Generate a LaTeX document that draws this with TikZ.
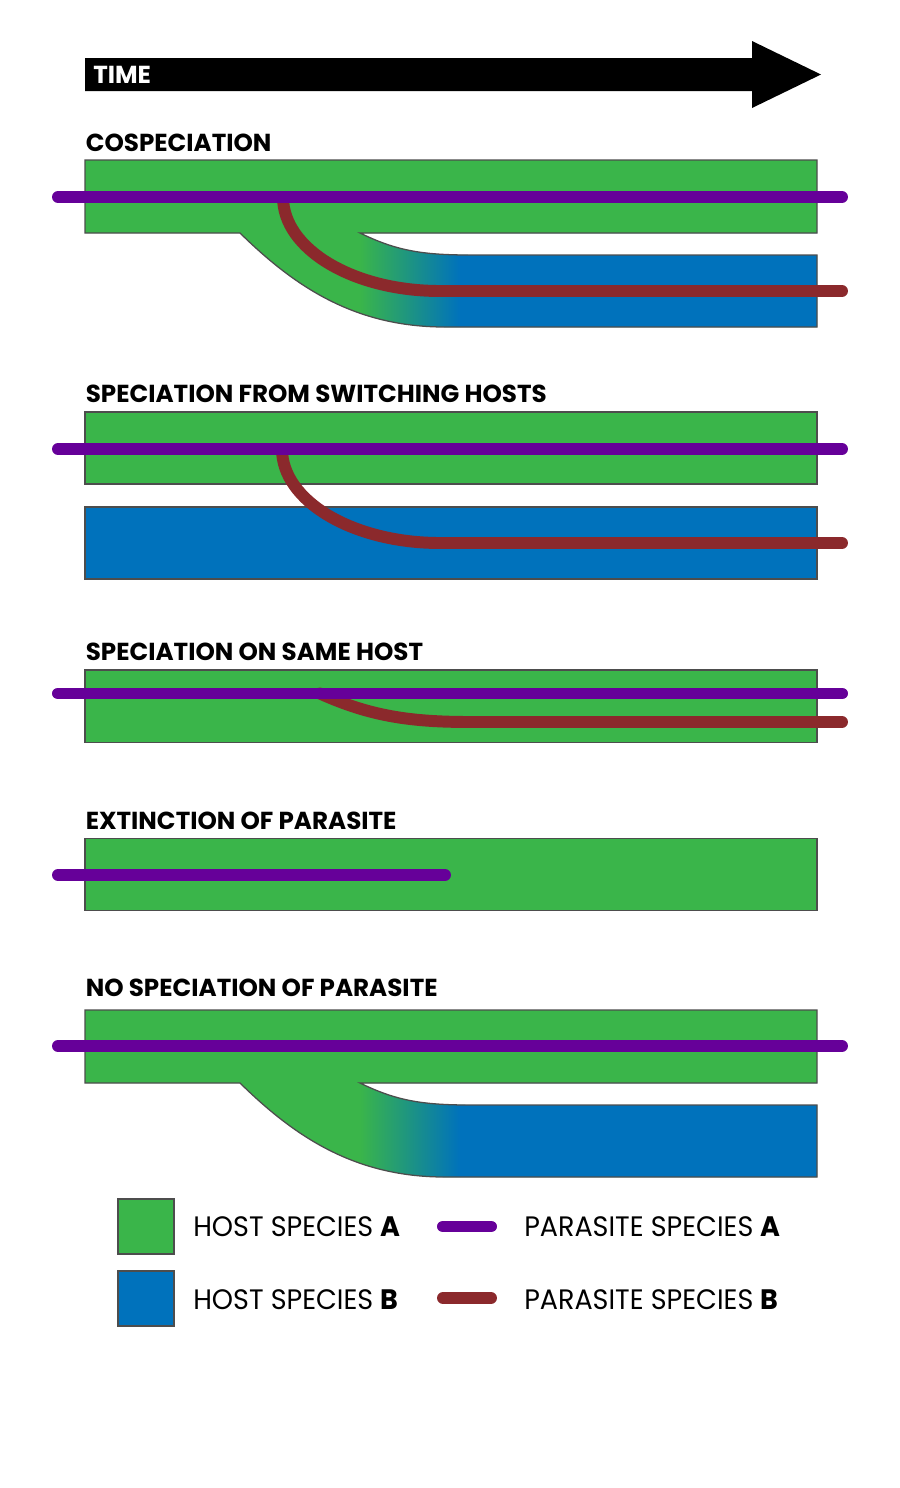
\documentclass[tikz,border=0pt]{standalone}
\usepackage{fontspec}
\setmainfont{Poppins}
\newfontfamily\legendfont[FakeStretch=0.96]{Poppins}

\definecolor{hostA}{RGB}{58,181,74}
\definecolor{hostB}{RGB}{0,114,188}
\definecolor{paraA}{RGB}{102,0,153}
\definecolor{paraB}{RGB}{139,41,44}
\definecolor{rim}{RGB}{77,77,77}

% outline of a host that splits into two
\newcommand{\hostsplit}{(85,160) -- (817,160) -- (817,233) -- (360,233)
  .. controls (395,250) and (420,255) .. (470,255) -- (817,255) -- (817,327)
  -- (445,327) .. controls (355,327) and (295,287) .. (240,233) -- (85,233) -- cycle}

\begin{document}
\begin{tikzpicture}[x=0.025cm, y=-0.025cm,
    host/.style={draw=rim, line width=0.9pt},
    para/.style={line width=8.5pt, line cap=round},
    heading/.style={anchor=base west, inner sep=0pt, font=\bfseries\fontsize{17.5}{20}\selectfont},
    legend/.style={anchor=base west, inner sep=0pt, font=\legendfont\fontsize{20}{24}\selectfont}]
    \useasboundingbox[fill=white] (0,0) rectangle (900,1488);

    % Time arrow
    \fill[black] (85,58) -- (752,58) -- (752,41) -- (821,74.5) -- (752,108) -- (752,91) -- (85,91) -- cycle;
    \node[heading, text=white] (time) at (93,83.5) {TIME};

    % Cospeciation
    \node[heading] (cospec) at (85.5,151.5) {COSPECIATION};
    \begin{scope}
        \clip \hostsplit;
        \fill[hostA] (80,150) rectangle (820,330);
        \shade[left color=hostA, right color=hostB] (360,233) rectangle (460,330);
        \fill[hostB] (460,233) rectangle (820,330);
    \end{scope}
    \draw[host] \hostsplit;
    \draw[para, paraB] (283,197) .. controls (283,249) and (353,291) .. (440,291) -- (842,291);
    \draw[para, paraA] (58,197) -- (842,197);

    % Switching hosts
    \node[heading] (switching) at (85.5,402.3) {SPECIATION FROM SWITCHING HOSTS};
    \draw[host, fill=hostA] (85,412) rectangle (817,484);
    \draw[host, fill=hostB] (85,507) rectangle (817,579);
    \draw[para, paraB] (282,449) .. controls (282,501) and (353,543) .. (440,543) -- (842,543);
    \draw[para, paraA] (58,449) -- (842,449);

    % Same host
    \node[heading] (samehost) at (85.5,660.7) {SPECIATION ON SAME HOST};
    \draw[host, fill=hostA] (85,670) rectangle (817,742.5);
    \draw[para, paraB] (320,693.5) .. controls (370,716) and (410,722) .. (470,722) -- (842,722);
    \draw[para, paraA] (58,693.5) -- (842,693.5);

    % Extinction
    \node[heading] (extinct) at (85.5,829) {EXTINCTION OF PARASITE};
    \draw[host, fill=hostA] (85,838.5) rectangle (817,910.5);
    \draw[para, paraA] (58,875) -- (445,875);

    % No speciation
    \node[heading] (nospec) at (85.5,996.7) {NO SPECIATION OF PARASITE};
    \begin{scope}[shift={(0,850)}]
        \begin{scope}
            \clip \hostsplit;
            \fill[hostA] (80,150) rectangle (820,330);
            \shade[left color=hostA, right color=hostB] (360,233) rectangle (460,330);
            \fill[hostB] (460,233) rectangle (820,330);
        \end{scope}
        \draw[host] \hostsplit;
        \draw[para, paraA] (58,196) -- (842,196);
    \end{scope}

    % Legend
    \draw[host, fill=hostA] (118,1199) rectangle (174,1254);
    \draw[host, fill=hostB] (118,1271) rectangle (174,1326);
    \node[legend] (keyhostA) at (193,1236.7) {HOST SPECIES \textbf{A}};
    \node[legend] (keyhostB) at (193,1309.3) {HOST SPECIES \textbf{B}};
    \draw[para, paraA] (443,1226.5) -- (491,1226.5);
    \draw[para, paraB] (443,1298) -- (491,1298);
    \node[legend] (keyparaA) at (524,1236.7) {PARASITE SPECIES \textbf{A}};
    \node[legend] (keyparaB) at (524,1309.3) {PARASITE SPECIES \textbf{B}};
\end{tikzpicture}
\end{document}
